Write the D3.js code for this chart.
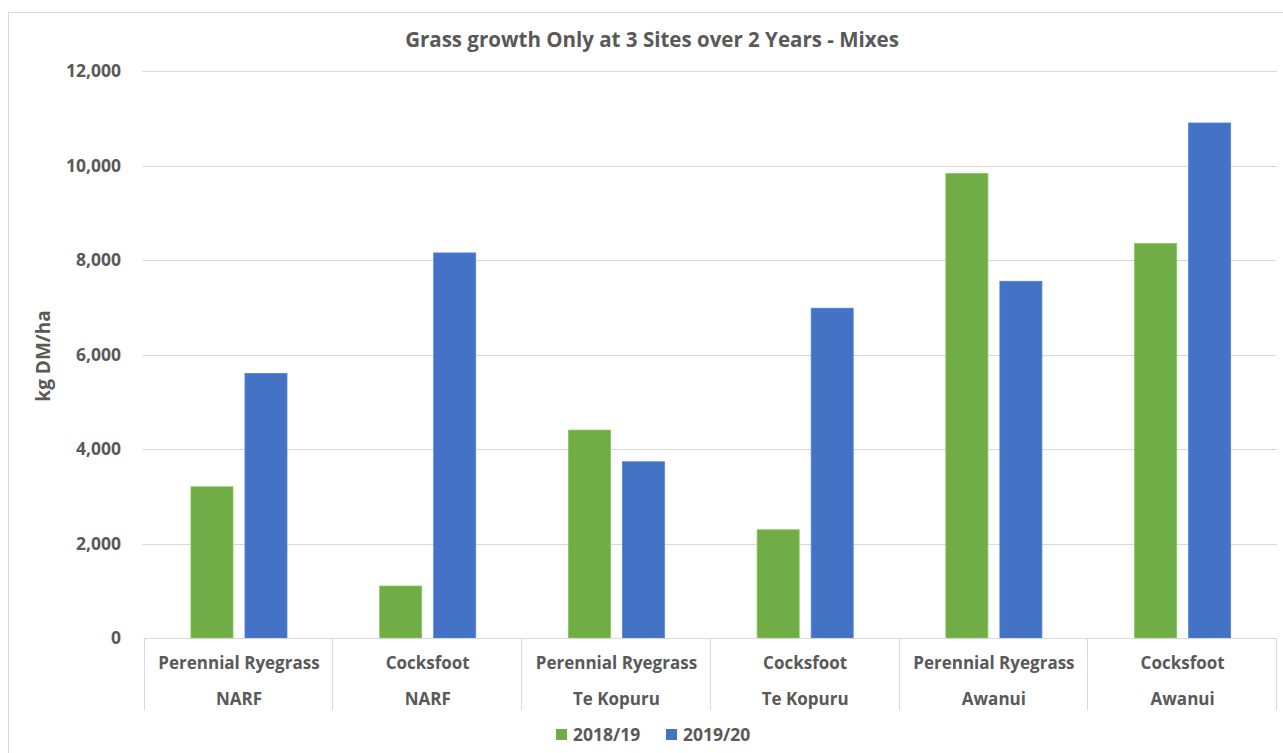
<!DOCTYPE html>
<html>
<head>
<meta charset="utf-8">
<script src="https://cdn.jsdelivr.net/npm/d3@7"></script>
<style>
    body { margin: 0; background: #fff; }
    text { font-family: "Open Sans", "Liberation Sans", sans-serif; font-weight: bold; fill: #595959; }
</style>
</head>
<body>
<div id="chart"></div>
<script>
// chart data
var grasses = ["Perennial Ryegrass", "Cocksfoot", "Perennial Ryegrass", "Cocksfoot", "Perennial Ryegrass", "Cocksfoot"]
var sites = ["NARF", "NARF", "Te Kopuru", "Te Kopuru", "Awanui", "Awanui"]
var seriesNames = ["2018/19", "2019/20"]
var growth1819 = [3200, 1100, 4400, 2290, 9830, 8350]
var growth1920 = [5600, 8150, 3730, 6980, 7550, 10900]
var yTicks = [0, 2000, 4000, 6000, 8000, 10000, 12000]
var colors = ["#70ad47", "#4472c4"]

var W = 1283, H = 753
var plot = { left: 144.6, right: 1277, top: 71, bottom: 638 }

var svg = d3.select("#chart").append("svg")
    .attr("width", W)
    .attr("height", H)

// chart border
svg.append("rect")
    .attr("x", 8.5).attr("y", 12.5)
    .attr("width", W + 10).attr("height", H)
    .attr("fill", "none")
    .attr("stroke", "#d9d9d9")

// title
svg.append("text")
    .attr("x", 652).attr("y", 47)
    .attr("text-anchor", "middle")
    .style("font-size", "20.5px")
    .text("Grass growth Only at 3 Sites over 2 Years - Mixes")

var idx = d3.range(grasses.length)
var x = d3.scaleBand().domain(idx).range([plot.left, plot.right])
var xs = d3.scaleBand().domain(seriesNames).range([0, x.bandwidth()])
    .paddingInner(0.222).paddingOuter(0.858)
var y = d3.scaleLinear().domain([0, 12000]).range([plot.bottom, plot.top])

// gridlines
svg.append("g").selectAll("line")
    .data(yTicks.filter(d => d > 0))
    .enter().append("line")
    .attr("x1", plot.left - 2).attr("x2", plot.right)
    .attr("y1", d => Math.round(y(d)) + 0.5).attr("y2", d => Math.round(y(d)) + 0.5)
    .attr("stroke", "#d9d9d9")

// y tick labels
svg.append("g").selectAll("text")
    .data(yTicks)
    .enter().append("text")
    .attr("x", 121)
    .attr("y", d => y(d) + 6)
    .attr("text-anchor", "end")
    .style("font-size", "17.5px")
    .text(d => d3.format(",")(d))

// y axis title
svg.append("text")
    .attr("transform", "translate(50,356) rotate(-90)")
    .attr("text-anchor", "middle")
    .style("font-size", "19px")
    .text("kg DM/ha")

// bars
var series = [growth1819, growth1920]
series.forEach(function (vals, s) {
    svg.append("g").selectAll("rect")
        .data(vals)
        .enter().append("rect")
        .attr("x", (d, i) => x(i) + xs(seriesNames[s]))
        .attr("y", d => y(d))
        .attr("width", xs.bandwidth())
        .attr("height", d => y(0) - y(d))
        .attr("fill", colors[s])
        .attr("stroke", d3.color(colors[s]).brighter(0.4))
        .attr("stroke-width", 0.8)
})

// category axis
var axis = svg.append("g")
axis.append("line")
    .attr("x1", plot.left - 1).attr("x2", plot.right)
    .attr("y1", plot.bottom + 0.5).attr("y2", plot.bottom + 0.5)
    .attr("stroke", "#d9d9d9")
axis.selectAll(".sep")
    .data(d3.range(grasses.length + 1))
    .enter().append("line")
    .attr("class", "sep")
    .attr("x1", i => Math.round(plot.left + i * x.step()) - 0.5)
    .attr("x2", i => Math.round(plot.left + i * x.step()) - 0.5)
    .attr("y1", plot.bottom).attr("y2", 710)
    .attr("stroke", "#d9d9d9")
axis.selectAll(".grass")
    .data(grasses)
    .enter().append("text")
    .attr("x", (d, i) => x(i) + x.bandwidth() / 2)
    .attr("y", 669)
    .attr("text-anchor", "middle")
    .style("font-size", "17px")
    .text(d => d)
axis.selectAll(".site")
    .data(sites)
    .enter().append("text")
    .attr("x", (d, i) => x(i) + x.bandwidth() / 2)
    .attr("y", 705)
    .attr("text-anchor", "middle")
    .style("font-size", "17px")
    .text(d => d)

// legend
var legendX = [556, 666]
var legend = svg.append("g")
seriesNames.forEach(function (name, s) {
    legend.append("rect")
        .attr("x", legendX[s]).attr("y", 729)
        .attr("width", 11).attr("height", 11)
        .attr("fill", colors[s])
    legend.append("text")
        .attr("x", legendX[s] + 17).attr("y", 741)
        .style("font-size", "17.5px")
        .text(name)
})
</script>
</body>
</html>
